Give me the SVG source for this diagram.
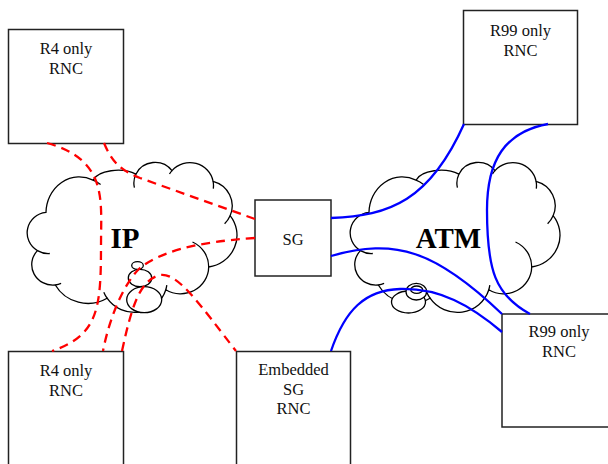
<svg xmlns="http://www.w3.org/2000/svg" xmlns:xlink="http://www.w3.org/1999/xlink" width="608" height="464" viewBox="0 0 608 464">
<style>
.box{fill:#fff;stroke:#222;stroke-width:1.5}
.cl{fill:#fff;stroke:#000;stroke-width:1.3}
.ci{fill:none;stroke:#000;stroke-width:1.3}
.bub{fill:#fff;stroke:#000;stroke-width:1.3}
.t{font-family:"Liberation Serif","Times New Roman",serif;font-size:16.5px;fill:#111;text-anchor:middle}
.big{font-family:"Liberation Serif","Times New Roman",serif;font-size:29px;font-weight:bold;fill:#000;text-anchor:middle}
.ip{fill:none;stroke:#f00;stroke-width:2.3;stroke-dasharray:9 6}
.atm{fill:none;stroke:#00f;stroke-width:2.3}
</style>
<defs>
<g id="cloudShape">
<path class="cl" d="M18.96,49.9 A21.12,20.64 0 0 0 10.4,88.1 A21.19,20.55 0 0 0 28.3,122.5 A37.53,36.61 0 0 0 80.1,135.7 A32.82,32 0 0 0 138.8,127.3 A28.12,27.32 0 0 0 181.7,104.5 A32.93,32.01 0 0 0 203.1,53.2 A25.92,25.25 0 0 0 186.1,18.9 A23.61,22.9 0 0 0 145,8.1 A21.22,20.64 0 0 0 108.9,11.7 A25.62,13.32 0 0 0 66,17.7 A33.25,36.4 0 0 0 18.96,49.9 Z"/>
<path class="ci" d="M10.4,88.1 A21.12,20.64 0 0 0 22.8,91 M28.3,122.5 A21.19,20.55 0 0 0 34.1,120.9 M76.8,129.7 A32.82,32 0 0 0 80.1,135.7 M138.8,127.3 A32.82,32 0 0 0 139.8,122.6 M181.7,104.5 A28.12,27.32 0 0 0 165.5,79.5 M197.6,61.2 A25.92,25.25 0 0 0 203.1,53.2 M186.3,26.1 A23.61,22.9 0 0 0 186.1,18.9 M145,8.1 A23.61,22.9 0 0 0 142.5,11.5 M108.9,11.7 A21.22,20.64 0 0 0 107.4,25.1 M73.6,22 A33.25,36.4 0 0 0 66,17.7"/>
</g>
</defs>

<g id="cloud-ip">
<use xlink:href="#cloudShape" href="#cloudShape" transform="translate(27,162.5)"/>
<ellipse class="bub" cx="144.2" cy="299.7" rx="17.5" ry="13"/>
<ellipse class="bub" cx="140" cy="278" rx="11.7" ry="8.7"/>
<ellipse class="bub" cx="137.5" cy="265.5" rx="5.8" ry="3.8"/>
<text class="big" x="125" y="248">IP</text>
</g>

<g id="cloud-atm">
<use xlink:href="#cloudShape" href="#cloudShape" transform="translate(350,162.5)"/>
<ellipse class="bub" cx="408.5" cy="302" rx="17" ry="11"/>
<ellipse class="bub" cx="416.3" cy="291.7" rx="10.3" ry="8.3"/>
<ellipse class="bub" cx="416.7" cy="289.7" rx="6" ry="3.7"/>
<text class="big" x="448.5" y="248">ATM</text>
</g>

<g id="rnc-r4-top">
<rect class="box" x="8.5" y="29.5" width="115" height="114"/>
<text class="t" x="66" y="53.5">R4 only</text>
<text class="t" x="66" y="74">RNC</text>
</g>

<g id="rnc-r99-top">
<rect class="box" x="463.5" y="10.5" width="114" height="114"/>
<text class="t" x="520.5" y="36">R99 only</text>
<text class="t" x="520.5" y="55.5">RNC</text>
</g>

<g id="sg">
<rect class="box" x="255" y="200" width="76" height="76"/>
<text class="t" x="293" y="245">SG</text>
</g>

<g id="rnc-r4-bottom">
<rect class="box" x="8.5" y="351.5" width="115" height="120"/>
<text class="t" x="66" y="376">R4 only</text>
<text class="t" x="66" y="395.5">RNC</text>
</g>

<g id="rnc-embedded">
<rect class="box" x="236.5" y="351.5" width="114" height="120"/>
<text class="t" x="293.5" y="375">Embedded</text>
<text class="t" x="293.5" y="394.5">SG</text>
<text class="t" x="293.5" y="413.5">RNC</text>
</g>

<g id="rnc-r99-bottom">
<rect class="box" x="502" y="314" width="120" height="113"/>
<text class="t" x="559" y="336.5">R99 only</text>
<text class="t" x="559" y="356.5">RNC</text>
</g>

<g id="connectors">
<path class="ip" d="M47,143 C108,160 101,200 101,245 C101,310 98,335 52,351"/>
<path class="ip" d="M104,143 C112,162 120,170 140,178 L255,219"/>
<path class="ip" d="M255,238 C195,242 160,252 140,268 C125,282 110,315 103,351"/>
<path class="ip" d="M122,351 C132,305 140,280 160,275 C178,272 200,305 236,351"/>
<path class="atm" d="M331,218 C390,216 430,200 464,124"/>
<path class="atm" d="M548,124 C505,132 487,160 487,210 C487,270 495,295 530,314"/>
<path class="atm" d="M331,256 C395,238 435,250 502,314"/>
<path class="atm" d="M331,351 C345,310 365,290 400,289 C440,288 470,305 502,332"/>
</g>
</svg>
